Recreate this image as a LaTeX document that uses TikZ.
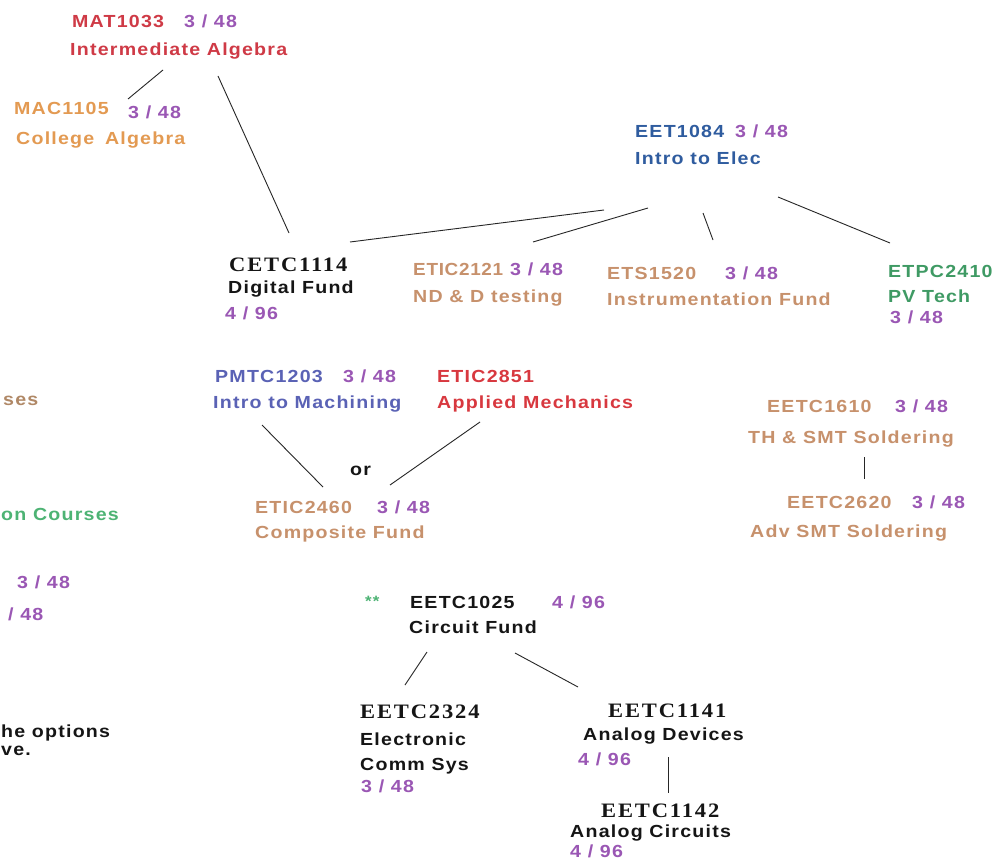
\documentclass[tikz,border=0pt]{standalone}
\usepackage{fontspec}
\setmainfont{Liberation Sans}
\newfontfamily\sansb{Liberation Sans}[UprightFont={* Bold}, FakeStretch=1.12, LetterSpace=7]
\newfontfamily\sansbt{Liberation Sans}[UprightFont={* Bold}, FakeStretch=1.08, LetterSpace=4]
\newfontfamily\serifb{Liberation Serif}[UprightFont={* Bold}, FakeStretch=1.1, LetterSpace=9]
\definecolor{redA}{HTML}{CF3A46}
\definecolor{redB}{HTML}{D8383F}
\definecolor{orangeA}{HTML}{E39A52}
\definecolor{tanA}{HTML}{C7916C}
\definecolor{blueA}{HTML}{2F5C9F}
\definecolor{blueB}{HTML}{5A62B5}
\definecolor{greenA}{HTML}{3F9A64}
\definecolor{greenB}{HTML}{4DB374}
\definecolor{purpA}{HTML}{9A57B4}
\definecolor{inkA}{HTML}{151515}
\definecolor{brownA}{HTML}{B08866}
\tikzset{
  lbl/.style={anchor=base west, inner sep=0pt, font=\sansb\fontsize{17.5}{17.5}\selectfont},
  credit/.style={lbl, text=purpA},
  code/.style={anchor=base west, inner sep=0pt, text=inkA, font=\serifb\fontsize{20.5}{20.5}\selectfont},
  link/.style={draw=black!85, line width=0.9pt}
}
\begin{document}
\begin{tikzpicture}[x=1pt,y=-1pt]
\fill[white] (0,0) rectangle (1001,861);
\useasboundingbox (0,0) rectangle (1001,861);
% top left
\node[lbl,text=redA] (mat) at (72,28) {MAT1033};
\node[credit] (matc) at (184,28) {3 / 48};
\node[lbl,text=redA] (mati) at (70,56) {Intermediate Algebra};
\node[lbl,text=orangeA] (mac) at (14,115) {MAC1105};
\node[credit] (macc) at (128,119) {3 / 48};
\node[lbl,text=orangeA] (maci) at (16,145) {College\hspace{4pt} Algebra};
% EET1084
\node[lbl,text=blueA] (eet) at (635,138) {EET1084};
\node[credit] (eetc) at (735,138) {3 / 48};
\node[lbl,text=blueA] (eeti) at (635,165) {Intro to Elec};
% row 2
\node[code] (cetc) at (229,271) {CETC1114};
\node[lbl,text=inkA] (cetci) at (228,293) {Digital Fund};
\node[credit] (cetcc) at (225,319) {4 / 96};
\node[lbl,text=tanA,font=\sansbt\fontsize{17.5}{17.5}\selectfont] (etic1) at (413,275) {ETIC2121};
\node[credit] (etic1c) at (510,275) {3 / 48};
\node[lbl,text=tanA] (etic1i) at (413,302) {ND \& D testing};
\node[lbl,text=tanA] (ets) at (607,279) {ETS1520};
\node[credit] (etsc) at (725,279) {3 / 48};
\node[lbl,text=tanA] (etsi) at (607,305) {Instrumentation Fund};
\node[lbl,text=greenA] (etpc) at (888,277) {ETPC2410};
\node[lbl,text=greenA] (etpci) at (888,302) {PV Tech};
\node[credit] (etpcc) at (890,323) {3 / 48};
% row 3
\node[lbl,text=blueB] (pmtc) at (215,382) {PMTC1203};
\node[credit] (pmtcc) at (343,382) {3 / 48};
\node[lbl,text=blueB] (pmtci) at (213,408) {Intro to Machining};
\node[lbl,text=redB] (etic2) at (437,382) {ETIC2851};
\node[lbl,text=redB] (etic2i) at (437,408) {Applied Mechanics};
\node[lbl,text=inkA] (or) at (350,475) {or};
\node[lbl,text=tanA] (etic3) at (255,513) {ETIC2460};
\node[credit] (etic3c) at (377,513) {3 / 48};
\node[lbl,text=tanA] (etic3i) at (255,538) {Composite Fund};
\node[lbl,text=tanA] (eetc1) at (767,412) {EETC1610};
\node[credit] (eetc1c) at (895,412) {3 / 48};
\node[lbl,text=tanA] (eetc1i) at (748,443) {TH \& SMT Soldering};
\node[lbl,text=tanA] (eetc2) at (787,508) {EETC2620};
\node[credit] (eetc2c) at (912,508) {3 / 48};
\node[lbl,text=tanA] (eetc2i) at (750,537) {Adv SMT Soldering};
% circuit fund
\node[lbl,text=greenB,font=\sansb\fontsize{15}{15}\selectfont] (star) at (365,606) {**};
\node[lbl,text=inkA] (cf) at (410,608) {EETC1025};
\node[credit] (cfc) at (552,608) {4 / 96};
\node[lbl,text=inkA] (cfi) at (409,633) {Circuit Fund};
\node[code] (ec) at (360,718) {EETC2324};
\node[lbl,text=inkA] (eci) at (360,745) {Electronic};
\node[lbl,text=inkA] (ecj) at (360,770) {Comm Sys};
\node[credit] (ecc) at (361,792) {3 / 48};
\node[code] (ad) at (608,717) {EETC1141};
\node[lbl,text=inkA] (adi) at (583,740) {Analog Devices};
\node[credit] (adc) at (578,765) {4 / 96};
\node[code] (ac) at (601,817) {EETC1142};
\node[lbl,text=inkA] (aci) at (570,837) {Analog Circuits};
\node[credit] (acc) at (570,857) {4 / 96};
% left partial texts (visible parts only)
\node[lbl,text=brownA] (lp1) at (3,405) {ses};
\node[lbl,text=greenB] (lp2) at (1,520) {on Courses};
\node[credit] (lp3) at (17,588) {3 / 48};
\node[credit] (lp4) at (8,620) {/ 48};
\node[lbl,text=inkA] (lp5) at (1,737) {he options};
\node[lbl,text=inkA] (lp6) at (1,755) {ve.};
% connector end points
\coordinate (a1) at (163,70);  \coordinate (a2) at (128,99);
\coordinate (b1) at (218,76);  \coordinate (b2) at (289,233);
\coordinate (c1) at (604,210); \coordinate (c2) at (350,242);
\coordinate (d1) at (648,208); \coordinate (d2) at (533,242);
\coordinate (e1) at (703,213); \coordinate (e2) at (713,240);
\coordinate (f1) at (778,197); \coordinate (f2) at (890,243);
\coordinate (g1) at (262,425); \coordinate (g2) at (323,487);
\coordinate (h1) at (480,422); \coordinate (h2) at (390,485);
\coordinate (i1) at (864,457); \coordinate (i2) at (864,479);
\coordinate (j1) at (427,652); \coordinate (j2) at (405,685);
\coordinate (k1) at (515,653); \coordinate (k2) at (578,687);
\coordinate (l1) at (668,757); \coordinate (l2) at (668,793);
\draw[link] (a1) -- (a2);
\draw[link] (b1) -- (b2);
\draw[link] (c1) -- (c2);
\draw[link] (d1) -- (d2);
\draw[link] (e1) -- (e2);
\draw[link] (f1) -- (f2);
\draw[link] (g1) -- (g2);
\draw[link] (h1) -- (h2);
\draw[link] (i1) -- (i2);
\draw[link] (j1) -- (j2);
\draw[link] (k1) -- (k2);
\draw[link] (l1) -- (l2);
\end{tikzpicture}
\end{document}
